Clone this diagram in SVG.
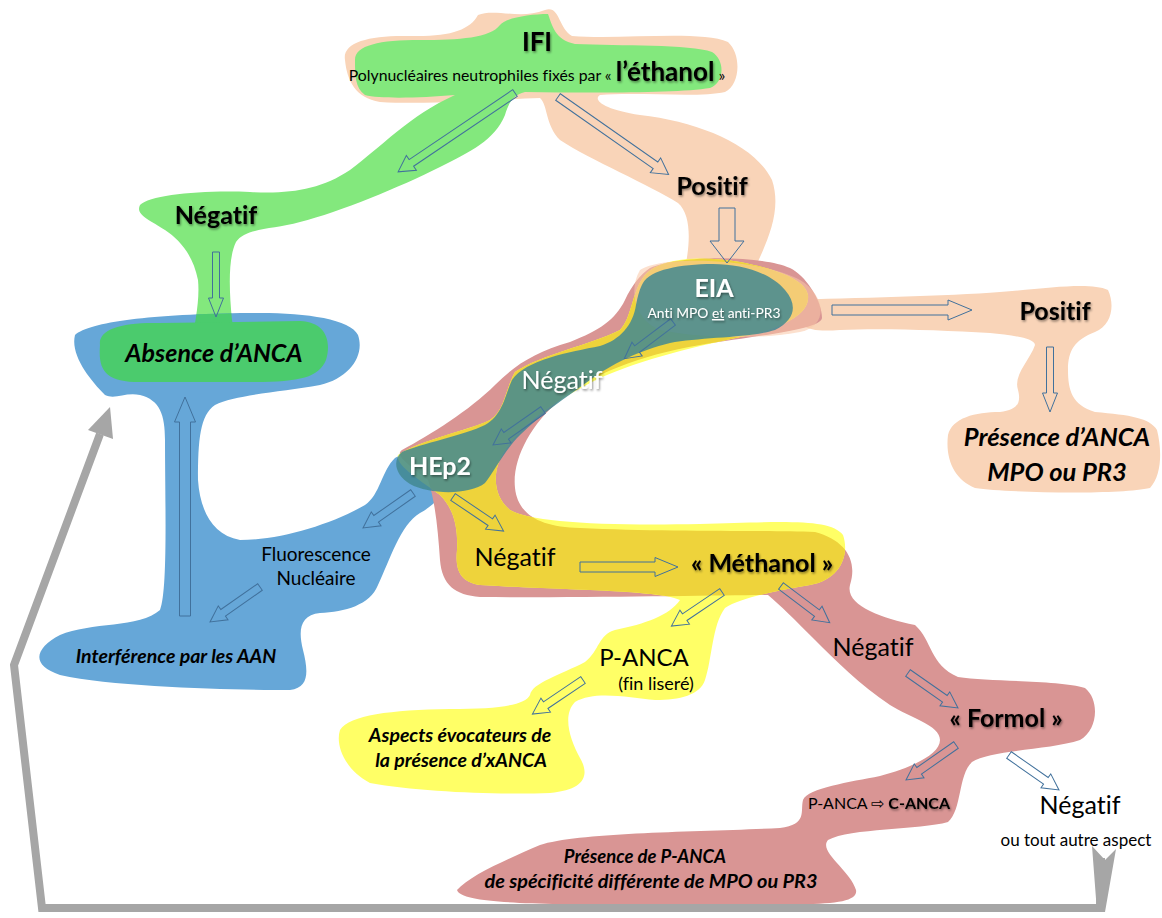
<svg xmlns="http://www.w3.org/2000/svg" width="1162" height="918" viewBox="0 0 1162 918">
<defs>
<style>
.t{font-family:Lato,"Open Sans","Liberation Sans",sans-serif;text-anchor:middle;fill:#000;font-variant-ligatures:none}
.b{font-weight:bold}
.i{font-style:italic}
.w{fill:#fff}
.arr{fill:none;stroke:#41719C;stroke-width:1}
.peach{fill:#F9D4B8}
.green{fill:#83E87D}
.dgreen{fill:#4BCB6D}
.blue{fill:#66A7D8}
.pink{fill:#D99594}
.yel{fill:#FFFF66}
.dyel{fill:#EED33B}
.teal{fill:#428892;opacity:0.85}
.grey{fill:none;stroke:#A6A6A6;stroke-width:8;stroke-linejoin:miter}
</style>
<filter id="sh" x="-20%" y="-30%" width="140%" height="160%">
<feDropShadow dx="1" dy="1.5" stdDeviation="1.2" flood-color="#000" flood-opacity="0.45"/>
</filter>
<path id="pinkP" d="M650,268 C680,255 760,255 790,268 C805,275 822,300 822,318 C820,330 760,335 700,345 C640,355 590,375 560,400 C530,425 512,460 515,488 C518,515 540,527 580,528 C660,532 760,530 815,532 C845,540 858,560 850,585 C845,605 880,618 915,625 C932,640 930,665 958,677 C990,682 1060,680 1085,688 C1100,700 1098,730 1080,740 C1050,750 990,750 972,762 C958,775 962,810 948,822 C920,830 850,828 828,840 C818,852 850,870 856,890 C858,900 840,904 800,904 L560,904 C500,903 460,900 457,890 C470,875 510,858 540,845 C580,832 700,832 780,828 C808,824 800,812 803,800 C808,788 850,782 880,776 C910,768 940,755 940,740 C940,725 910,718 890,705 C860,685 835,660 815,640 C795,620 780,605 768,595 C720,595 600,598 480,597 C455,595 442,585 440,560 C438,530 435,500 428,480 C405,462 395,455 402,450 C430,435 470,410 495,385 C515,365 535,352 570,342 C600,330 615,320 625,300 C632,285 640,275 650,268 Z"/>
<path id="yelP" d="M645,275 C660,258 700,255 740,262 C780,270 805,280 808,295 C810,312 790,325 750,335 C700,345 640,360 600,378 C560,398 525,420 505,450 C492,470 492,495 510,510 C530,522 600,526 700,524 C780,522 830,518 843,535 C850,555 840,580 810,585 C780,590 740,598 725,608 C712,625 712,660 705,680 C700,695 680,700 655,700 C630,698 595,690 575,702 C562,715 570,740 580,758 C590,775 585,790 550,793 C500,795 420,792 370,783 C345,770 335,745 340,730 C350,715 390,710 450,709 C500,709 525,705 530,695 C532,683 560,675 585,662 C600,650 598,635 615,630 C645,624 670,615 680,600 C660,590 560,590 480,585 C460,582 455,570 457,550 C458,530 455,510 440,495 C420,480 395,465 398,455 C420,440 470,430 490,420 C505,410 505,390 515,372 C540,355 590,345 620,330 C632,318 632,290 645,275 Z"/>
<path id="greenP" d="M355,60 C355,45 380,40 420,40 C460,40 490,38 500,25 C505,18 530,14 548,14 C552,25 555,40 575,44 C620,46 690,44 712,52 C725,60 725,82 710,88 C680,93 600,93 525,92 C512,95 508,105 505,115 C495,140 470,152 440,167 C400,187 340,212 300,222 C270,230 245,228 236,242 C228,258 229,290 232,320 C234,335 238,340 240,348 L190,348 C195,325 200,300 198,280 C193,255 180,240 165,230 C150,220 135,215 140,205 C150,195 200,190 250,192 C290,194 320,190 350,170 C380,148 410,115 455,95 C420,98 380,99 365,95 C355,88 355,75 355,60 Z"/>
<path id="blueP" d="M75,335 C90,322 150,314 250,313 C300,312 350,318 358,335 C365,355 350,378 320,385 C280,392 235,395 215,405 C200,415 198,440 198,480 C200,510 212,535 240,540 C280,540 330,525 365,505 C380,495 382,470 395,458 C410,448 440,450 445,470 C450,490 435,505 420,513 C400,525 390,560 378,585 C370,605 345,612 320,613 C300,615 298,630 303,650 C308,670 310,688 290,690 C240,690 120,688 60,675 C30,665 35,648 60,635 C90,622 140,628 160,610 C168,590 165,500 165,440 C165,415 160,400 140,395 C125,392 115,400 105,395 C90,380 70,355 75,335 Z"/>
<clipPath id="clipPink"><use href="#pinkP"/></clipPath>
<clipPath id="clipBlue"><use href="#blueP"/></clipPath>
</defs>
<rect width="1162" height="918" fill="#fff"/>

<g id="shapes">
<path class="peach" d="M345,60 C342,42 370,35 410,36 C450,37 470,30 478,15 C495,8 520,20 545,10 C560,5 558,28 572,36 C620,40 700,30 728,42 C742,55 740,85 725,92 C700,98 640,92 600,95 C592,100 605,110 640,115 C700,122 755,145 772,180 C782,210 768,240 755,268 L685,268 C690,245 692,215 678,203 C650,185 590,160 560,140 C545,125 548,105 540,98 C500,99 430,105 380,102 C355,98 347,80 345,60 Z"/>
<path class="peach" d="M790,300 C850,298 950,296 1000,292 C1050,288 1090,282 1108,290 C1115,305 1112,325 1095,332 C1075,340 1068,350 1068,370 C1068,390 1072,405 1095,412 C1130,415 1150,418 1157,430 C1162,450 1162,475 1150,488 C1120,495 1010,493 975,488 C955,480 945,460 948,435 C952,418 975,412 1000,412 C1015,410 1022,405 1018,390 C1013,375 1030,360 1035,345 C1035,338 1010,335 990,333 C940,330 880,328 840,330 C810,332 795,330 790,300 Z"/>
<use href="#greenP" class="green"/>
<use href="#blueP" class="blue"/>
<use href="#greenP" class="dgreen" clip-path="url(#clipBlue)"/>
<path class="dgreen" d="M100,345 C98,330 120,322 160,323 L300,321 C325,322 332,340 326,360 C318,378 300,382 250,382 L140,382 C105,382 98,370 100,345 Z"/>
<use href="#pinkP" class="pink"/>
<use href="#yelP" class="yel"/>
<use href="#yelP" class="dyel" clip-path="url(#clipPink)"/>
<path fill="#F9C6A6" opacity="0.55" d="M640,270 C660,255 760,258 800,280 C825,295 830,325 800,332 C760,340 700,338 660,330 C635,320 628,290 640,270 Z"/>
<path class="teal" d="M643,283 C650,270 680,264 713,264 C740,264 770,272 785,290 C798,305 795,320 775,330 C750,338 700,337 670,343 C640,350 610,365 590,380 C565,398 540,415 520,435 C505,450 495,470 485,483 C470,495 430,495 410,484 C395,475 392,460 402,452 C420,444 465,435 485,425 C503,415 505,395 512,380 C525,360 570,352 600,346 C620,340 633,325 636,305 C638,295 640,288 643,283 Z"/>
</g>

<g id="connectors">
<g transform="translate(515,93) rotate(146)"><polygon class="arr" points="0,-4 125,-4 125,-9 141,0 125,9 125,4 0,4"/></g>
<g transform="translate(558,97) rotate(35)"><polygon class="arr" points="0,-4 119,-4 119,-9 135,0 119,9 119,4 0,4"/></g>
<g transform="translate(727,208) rotate(90)"><polygon class="arr" points="0,-8 33,-8 33,-17 55,0 33,17 33,8 0,8"/></g>
<g transform="translate(216,252) rotate(90)"><polygon class="arr" points="0,-3.5 46,-3.5 46,-7.5 65,0 46,7.5 46,3.5 0,3.5"/></g>
<g transform="translate(832,310) rotate(0)"><polygon class="arr" points="0,-5 116,-5 116,-10 140,0 116,10 116,5 0,5"/></g>
<g transform="translate(1050,347) rotate(90)"><polygon class="arr" points="0,-3.5 46,-3.5 46,-7.5 65,0 46,7.5 46,3.5 0,3.5"/></g>
<g transform="translate(673,322) rotate(143)"><polygon class="arr" points="0,-4 45,-4 45,-8.5 61,0 45,8.5 45,4 0,4"/></g>
<g transform="translate(543,410) rotate(145)"><polygon class="arr" points="0,-4 45,-4 45,-8.5 61,0 45,8.5 45,4 0,4"/></g>
<g transform="translate(413,493) rotate(145)"><polygon class="arr" points="0,-4 45,-4 45,-8.5 61,0 45,8.5 45,4 0,4"/></g>
<g transform="translate(453,497) rotate(34)"><polygon class="arr" points="0,-4 45,-4 45,-8.5 61,0 45,8.5 45,4 0,4"/></g>
<g transform="translate(185,616) rotate(-90)"><polygon class="arr" points="0,-5.5 194,-5.5 194,-10.5 219,0 194,10.5 194,5.5 0,5.5"/></g>
<g transform="translate(260,587) rotate(145)"><polygon class="arr" points="0,-4 45,-4 45,-8.5 61,0 45,8.5 45,4 0,4"/></g>
<g transform="translate(580,567) rotate(0)"><polygon class="arr" points="0,-5 75,-5 75,-9.5 98,0 75,9.5 75,5 0,5"/></g>
<g transform="translate(722,592) rotate(146)"><polygon class="arr" points="0,-4 45,-4 45,-8.5 61,0 45,8.5 45,4 0,4"/></g>
<g transform="translate(781,586) rotate(37)"><polygon class="arr" points="0,-4 45,-4 45,-8.5 61,0 45,8.5 45,4 0,4"/></g>
<g transform="translate(583,680) rotate(146)"><polygon class="arr" points="0,-4 45,-4 45,-8.5 61,0 45,8.5 45,4 0,4"/></g>
<g transform="translate(908,673) rotate(35)"><polygon class="arr" points="0,-4 45,-4 45,-8.5 61,0 45,8.5 45,4 0,4"/></g>
<g transform="translate(956,745) rotate(145)"><polygon class="arr" points="0,-4 45,-4 45,-8.5 61,0 45,8.5 45,4 0,4"/></g>
<g transform="translate(1009,755) rotate(35)"><polygon class="arr" points="0,-4 45,-4 45,-8.5 61,0 45,8.5 45,4 0,4"/></g>
<polyline class="grey" points="1101,858 1100,908 42,908 14,665 100,434"/>
<polygon fill="#A6A6A6" points="110,407 88,430 113,439"/>
<polygon fill="#A6A6A6" points="1092,846 1105,860 1116,849 1105,912 1097,912"/>
</g>

<g id="n-ifi">
<text class="t b" x="537" y="51" font-size="26" filter="url(#sh)">IFI</text>
<text class="t" x="537" y="81" font-size="15.8"><tspan>Polynucléaires neutrophiles fixés par « </tspan><tspan font-weight="bold" font-size="26" filter="url(#sh)">l’éthanol</tspan><tspan> »</tspan></text>
</g>
<g id="n-neg1"><text class="t b" x="216" y="224" font-size="25" filter="url(#sh)">Négatif</text></g>
<g id="n-pos1"><text class="t b" x="712" y="195" font-size="25" filter="url(#sh)">Positif</text></g>
<g id="n-absence"><text class="t b i" x="214" y="362" font-size="25">Absence d’ANCA</text></g>
<g id="n-eia">
<text class="t b w" x="714" y="297" font-size="25" filter="url(#sh)">EIA</text>
<text class="t w" x="714" y="318" font-size="13.8" filter="url(#sh)">Anti MPO <tspan text-decoration="underline">et</tspan> anti-PR3</text>
</g>
<g id="n-neg2"><text class="t w" x="562" y="389" font-size="25" filter="url(#sh)">Négatif</text></g>
<g id="n-hep2"><text class="t b w" x="440" y="475" font-size="25" filter="url(#sh)">HEp2</text></g>
<g id="n-pos2"><text class="t b" x="1055" y="320" font-size="25" filter="url(#sh)">Positif</text></g>
<g id="n-presence1">
<text class="t b i" x="1057" y="446" font-size="25.5">Présence d’ANCA</text>
<text class="t b i" x="1057" y="481" font-size="25.5">MPO ou PR3</text>
</g>
<g id="n-fluo">
<text class="t" x="316" y="561" font-size="19">Fluorescence</text>
<text class="t" x="316" y="585" font-size="19">Nucléaire</text>
</g>
<g id="n-interf"><text class="t b i" x="176" y="663" font-size="19.5">Interférence par les AAN</text></g>
<g id="n-neg3"><text class="t" x="515" y="566" font-size="25">Négatif</text></g>
<g id="n-methanol"><text class="t b" x="762" y="572" font-size="25" filter="url(#sh)">« Méthanol »</text></g>
<g id="n-panca">
<text class="t" x="644" y="666" font-size="24">P-ANCA</text>
<text class="t" x="656" y="690" font-size="18">(fin liseré)</text>
</g>
<g id="n-aspects">
<text class="t b i" x="460" y="742" font-size="19.5">Aspects évocateurs de</text>
<text class="t b i" x="461" y="767" font-size="19.5">la présence d’xANCA</text>
</g>
<g id="n-neg4"><text class="t" x="873" y="656" font-size="25">Négatif</text></g>
<g id="n-formol"><text class="t b" x="1006" y="727" font-size="25" filter="url(#sh)">« Formol »</text></g>
<g id="n-pc"><text class="t" x="879" y="809" font-size="16">P-ANCA ⇨ <tspan font-weight="bold" filter="url(#sh)">C-ANCA</tspan></text></g>
<g id="n-neg5">
<text class="t" x="1080" y="814" font-size="25">Négatif</text>
<text class="t" x="1076" y="846" font-size="17">ou tout autre aspect</text>
</g>
<g id="n-presence2">
<text class="t b i" x="645" y="863" font-size="18.5">Présence de P-ANCA</text>
<text class="t b i" x="651" y="888" font-size="18.5" textLength="333" lengthAdjust="spacingAndGlyphs">de spécificité différente de MPO ou PR3</text>
</g>
</svg>
